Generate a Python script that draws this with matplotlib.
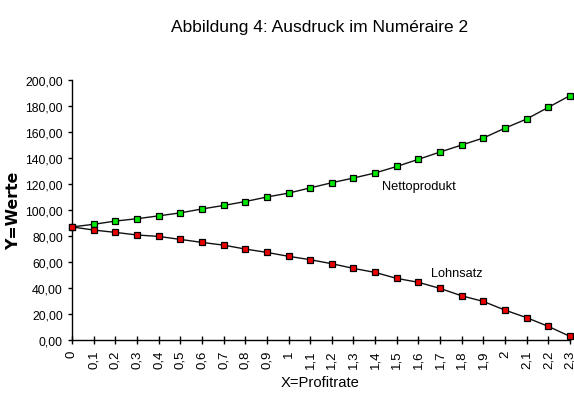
import matplotlib
matplotlib.use('Agg')
import matplotlib.pyplot as plt

# Profitrate und Werte
x = [0, 0.1, 0.2, 0.3, 0.4, 0.5, 0.6, 0.7, 0.8, 0.9, 1.0, 1.1,
     1.2, 1.3, 1.4, 1.5, 1.6, 1.7, 1.8, 1.9, 2.0, 2.1, 2.2, 2.3]
netto = [87, 89, 91.5, 93.3, 95.5, 97.8, 100.8, 103.5, 106.5, 110, 113, 117,
         121, 124.6, 128.5, 133.5, 139, 144.6, 150, 155.4, 163, 170, 179, 188]
lohn = [87, 84.6, 82.8, 80.8, 79.7, 77.4, 75.1, 73, 70, 67.4, 64.4, 61.8,
        58.7, 55.1, 52, 47.4, 44.4, 39.7, 34, 29.7, 23, 17.2, 10.5, 2.8]
xlabels = ['0', '0,1', '0,2', '0,3', '0,4', '0,5', '0,6', '0,7', '0,8', '0,9', '1', '1,1',
           '1,2', '1,3', '1,4', '1,5', '1,6', '1,7', '1,8', '1,9', '2', '2,1', '2,2', '2,3']
yticks = [0, 20, 40, 60, 80, 100, 120, 140, 160, 180, 200]
ylabels = ['%d,00' % v for v in yticks]

plt.rcParams['font.family'] = ['Liberation Sans', 'DejaVu Sans']

fig = plt.figure(figsize=(5.74, 4.06), dpi=100)
ax = fig.add_axes([0.1254, 0.160, 0.8676, 0.6405])

ax.plot(x, netto, color='#111111', lw=1, marker='s', ms=4.8, mfc='#00e800',
        mec='black', mew=0.9, clip_on=False, zorder=3)
ax.plot(x, lohn, color='#111111', lw=1, marker='s', ms=4.8, mfc='#ee0000',
        mec='black', mew=0.9, clip_on=False, zorder=3)

ax.set_xlim(0, 2.3)
ax.set_ylim(0, 200)
ax.set_xticks(x)
ax.set_xticklabels(xlabels, rotation=90, fontsize=9.5)
ax.set_yticks(yticks)
ax.set_yticklabels(ylabels, fontsize=8.8)
ax.tick_params(axis='x', direction='inout', length=6, width=1, pad=4)
ax.tick_params(axis='y', direction='out', length=3, width=1, pad=3.5)
for lab in ax.get_xticklabels():
    lab.set_va('top')

for s in ['top', 'right']:
    ax.spines[s].set_visible(False)
for s in ['left', 'bottom']:
    ax.spines[s].set_linewidth(1)

ax.text(1.43, 118.5, 'Nettoprodukt', fontsize=9.3, va='center', ha='left')
ax.text(1.66, 51.5, 'Lohnsatz', fontsize=9.2, va='center', ha='left')

fig.text(0.556, 0.933, 'Abbildung 4: Ausdruck im Numéraire 2', fontsize=12.5,
         ha='center', va='center')
fig.text(0.557, 0.057, 'X=Profitrate', fontsize=10.6, ha='center', va='center')
fig.text(0.024, 0.48, 'Y=Werte', fontsize=11.3, fontweight='bold', rotation=90,
         ha='center', va='center', family='DejaVu Sans')

fig.savefig('out.png', dpi=100)
